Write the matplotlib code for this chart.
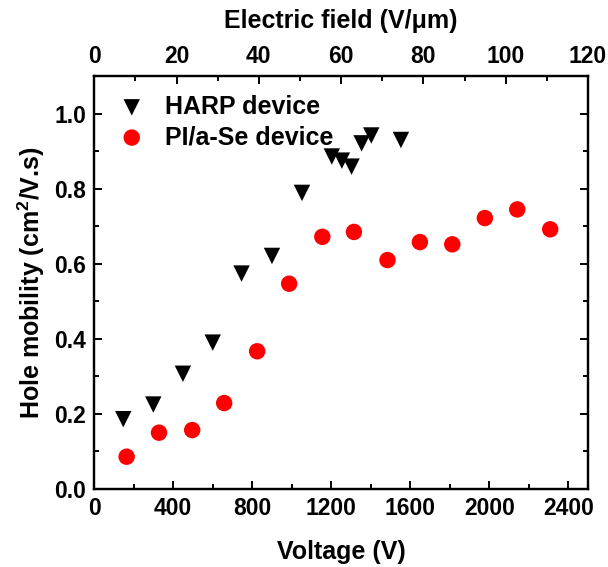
import matplotlib
matplotlib.use("Agg")
import matplotlib.pyplot as plt
from matplotlib.ticker import MultipleLocator, FormatStrFormatter

plt.rcParams['font.family'] = ['Liberation Sans', 'DejaVu Sans']
plt.rcParams['font.weight'] = 'bold'
plt.rcParams['mathtext.fontset'] = 'custom'
plt.rcParams['mathtext.rm'] = 'Liberation Sans:bold'
plt.rcParams['mathtext.bf'] = 'Liberation Sans:bold'

# HARP device: voltage (V) vs hole mobility (cm^2/V.s)
harp_voltage = [147, 299, 449, 600, 746, 900, 1052, 1203, 1254, 1303, 1354, 1403, 1553]
harp_mobility = [0.186, 0.225, 0.307, 0.390, 0.574, 0.621, 0.789, 0.886, 0.875, 0.859, 0.921, 0.942, 0.930]

# PI/a-Se device
pi_voltage = [164, 328, 496, 658, 825, 987, 1155, 1315, 1485, 1649, 1813, 1978, 2142, 2309]
pi_mobility = [0.086, 0.150, 0.157, 0.229, 0.367, 0.547, 0.672, 0.685, 0.610, 0.658, 0.652, 0.722, 0.745, 0.692]

xlim_v = (0, 2500)
xlim_field = (0, 120)
ylim = (0, 1.1)

fig = plt.figure(figsize=(6.08, 5.67), dpi=100)
ax = fig.add_axes([0.155, 0.1376, 0.812, 0.728])

ax.scatter(harp_voltage, harp_mobility, marker='v', s=140, color='black',
           edgecolors='none', label='HARP device', zorder=3)
ax.scatter(pi_voltage, pi_mobility, marker='o', s=140, color='#ff0000',
           edgecolors='none', label='PI/a-Se device', zorder=3)

ax.set_xlim(*xlim_v)
ax.set_ylim(*ylim)
ax.xaxis.set_major_locator(MultipleLocator(400))
ax.xaxis.set_minor_locator(MultipleLocator(200))
ax.yaxis.set_major_locator(MultipleLocator(0.2))
ax.yaxis.set_minor_locator(MultipleLocator(0.1))
ax.yaxis.set_major_formatter(FormatStrFormatter('%.1f'))

for s in ax.spines.values():
    s.set_linewidth(1.6)

ax.tick_params(which='both', direction='in', width=1.4, labelsize=16.5,
               top=False, right=True, pad=6)
ax.tick_params(which='major', length=6)
ax.tick_params(which='minor', length=3.5)

ax.set_xlabel('Voltage (V)', fontsize=18, fontweight='bold', labelpad=14)
ax.set_ylabel(r'Hole mobility (cm$^{\mathbf{2}}$/V.s)', fontsize=18,
              fontweight='bold', labelpad=5)

top = ax.twiny()
top.set_xlim(*xlim_field)
top.xaxis.set_major_locator(MultipleLocator(20))
top.xaxis.set_minor_locator(MultipleLocator(10))
top.tick_params(which='both', direction='in', width=1.4, labelsize=16.5, pad=6)
top.tick_params(which='major', length=6)
top.tick_params(which='minor', length=3.5)
top.set_xlabel('Electric field (V/\u03bcm)', fontsize=18, fontweight='bold', labelpad=12)
for s in top.spines.values():
    s.set_linewidth(1.6)

ax.legend(loc='upper left', frameon=False, fontsize=18, handletextpad=0.35,
          borderaxespad=0.1, labelspacing=0.25, bbox_to_anchor=(0.0, 0.985))

fig.savefig('out.png', dpi=100)
